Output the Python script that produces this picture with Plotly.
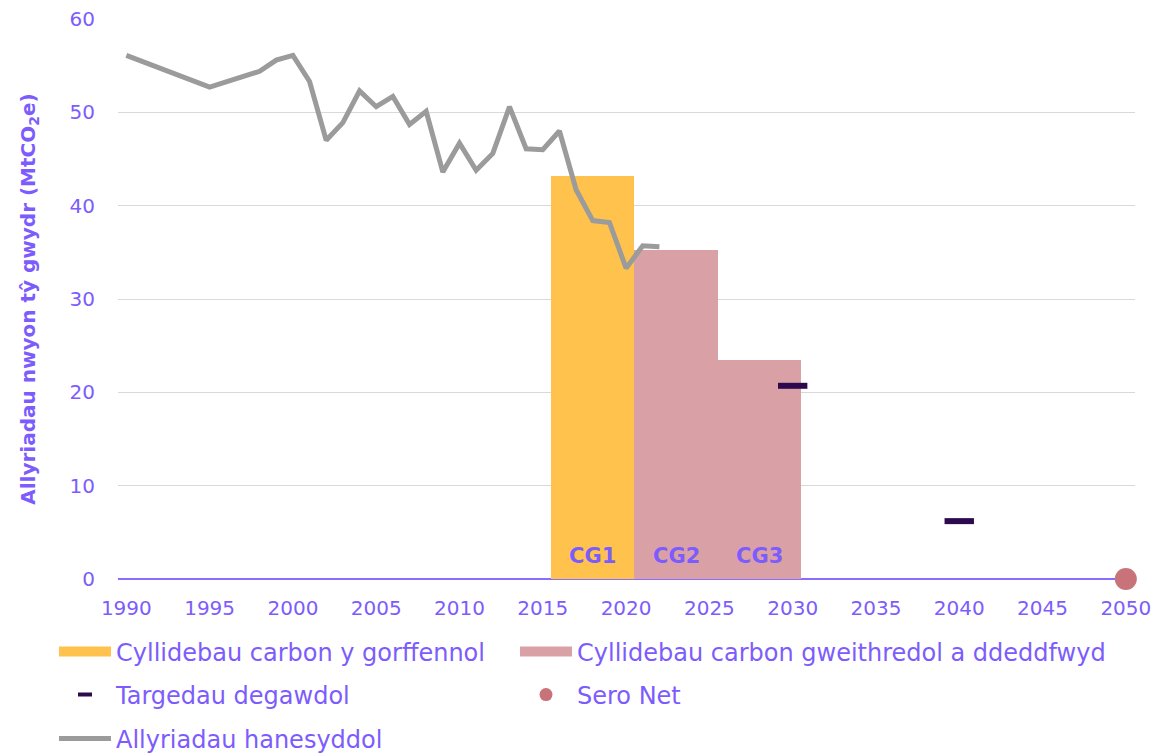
import plotly.graph_objects as go

# Historical emissions (MtCO2e)
hist_years = [1990, 1995, 1998, 1999, 2000, 2001, 2002, 2003, 2004, 2005, 2006, 2007,
              2008, 2009, 2010, 2011, 2012, 2013, 2014, 2015, 2016, 2017, 2018, 2019,
              2020, 2021, 2022]
hist_vals = [56.1, 52.7, 54.4, 55.6, 56.1, 53.3, 47.0, 48.9, 52.3, 50.6, 51.7, 48.7,
             50.1, 43.6, 46.7, 43.8, 45.6, 50.6, 46.1, 46.0, 48.0, 41.7, 38.4, 38.2,
             33.3, 35.7, 35.6]

# Carbon budgets (annual average), 5-year periods centred on these years
past_budget_years = [2018]
past_budget_vals = [43.2]
past_budget_labels = ["CG1"]
current_budget_years = [2023, 2028]
current_budget_vals = [35.3, 23.5]
current_budget_labels = ["CG2", "CG3"]

target_years = [2030, 2040]
target_vals = [20.7, 6.2]

netzero_years = [2050]
netzero_vals = [0]

x_ticks = list(range(1990, 2051, 5))
y_ticks = list(range(0, 61, 10))

FONT = "DejaVu Sans"
TXT = "#7C5CFC"
ORANGE = "#FFC34D"
PINK = "#D9A1A6"
DARK = "#2D0A4E"
DOT = "#C8727A"
GREY = "#9B9B9B"

fig = go.Figure()

# Bars (legend drawn through proxies so the swatch is a wide band)
fig.add_trace(go.Bar(
    x=past_budget_years, y=past_budget_vals, width=5, showlegend=False,
    marker=dict(color=ORANGE, line=dict(width=0)), hoverinfo="skip",
))
fig.add_trace(go.Bar(
    x=current_budget_years, y=current_budget_vals, width=5, showlegend=False,
    marker=dict(color=PINK, line=dict(width=0)), hoverinfo="skip",
))
fig.add_trace(go.Scatter(
    x=hist_years, y=hist_vals, mode="lines",
    name="Allyriadau hanesyddol",
    line=dict(color=GREY, width=5), legend="legend5",
))
fig.add_trace(go.Scatter(
    x=target_years, y=target_vals, mode="markers", showlegend=False,
    marker=dict(symbol="line-ew", size=21, line=dict(color=DARK, width=6)),
))
fig.add_trace(go.Scatter(
    x=netzero_years, y=netzero_vals, mode="markers", showlegend=False,
    marker=dict(symbol="circle", size=22, color=DOT),
    cliponaxis=False,
))

# Legend entries
fig.add_trace(go.Scatter(x=[None], y=[None], mode="lines", name="Cyllidebau carbon y gorffennol",
                         line=dict(color=ORANGE, width=12), legend="legend"))
fig.add_trace(go.Scatter(x=[None], y=[None], mode="lines",
                         name="Cyllidebau carbon gweithredol a ddeddfwyd",
                         line=dict(color=PINK, width=12), legend="legend2"))
fig.add_trace(go.Scatter(x=[None], y=[None], mode="markers", name="Targedau degawdol",
                         marker=dict(symbol="line-ew", size=10, line=dict(color=DARK, width=4)),
                         legend="legend3"))
fig.add_trace(go.Scatter(x=[None], y=[None], mode="markers", name="Sero Net",
                         marker=dict(symbol="circle", size=13, color=DOT), legend="legend4"))

# Budget labels at the foot of each bar
for xs, labs in ((past_budget_years, past_budget_labels), (current_budget_years, current_budget_labels)):
    for xv, lab in zip(xs, labs):
        fig.add_annotation(x=xv, y=0, text=f"<b>{lab}</b>", showarrow=False,
                           yanchor="bottom", yshift=9,
                           font=dict(family=FONT, size=21, color=TXT))

PLOT_L, PLOT_R, PLOT_T, PLOT_B = 118, 24, 19, 177
PW = 1159 - PLOT_L - PLOT_R
PH = 756 - PLOT_T - PLOT_B


def leg_x(px):
    return (px - PLOT_L) / PW


def leg_y(center_px):
    return -(center_px - (756 - PLOT_B)) / PH


leg_common = dict(orientation="h", xanchor="left", yanchor="middle",
                  itemwidth=52, bgcolor="rgba(0,0,0,0)",
                  font=dict(family=FONT, size=24, color=TXT))

fig.update_layout(
    width=1159, height=756,
    margin=dict(l=PLOT_L, r=PLOT_R, t=PLOT_T, b=PLOT_B, autoexpand=False),
    paper_bgcolor="white", plot_bgcolor="white",
    font=dict(family=FONT, color=TXT, size=20),
    barmode="overlay", bargap=0,
    showlegend=True,
    legend=dict(x=leg_x(54), y=leg_y(652), **leg_common),
    legend2=dict(x=leg_x(515), y=leg_y(652), **leg_common),
    legend3=dict(x=leg_x(54), y=leg_y(695), **leg_common),
    legend4=dict(x=leg_x(515), y=leg_y(695), **leg_common),
    legend5=dict(x=leg_x(54), y=leg_y(739), **leg_common),
)
fig.update_xaxes(
    range=[1989.5, 2050.55], tickvals=x_ticks, showgrid=False, zeroline=False,
    showline=False, ticks="", tickfont=dict(family=FONT, size=20, color=TXT),
    ticklabelstandoff=15, automargin=False,
)
fig.update_yaxes(
    range=[0, 60], tickvals=y_ticks, showgrid=True, gridcolor="#D9D9D9", gridwidth=1,
    zeroline=True, zerolinecolor="#8B6CFF", zerolinewidth=1.5,
    showline=False, ticks="", tickfont=dict(family=FONT, size=20, color=TXT),
    ticklabelstandoff=22, automargin=False,
    title=dict(text="<b>Allyriadau nwyon tŷ gwydr (MtCO<sub>2</sub>e)</b>",
               font=dict(family=FONT, size=20, color=TXT), standoff=28),
)

fig.write_html("out.html", config={"displayModeBar": False},
               post_script="document.body.style.margin='0';")
